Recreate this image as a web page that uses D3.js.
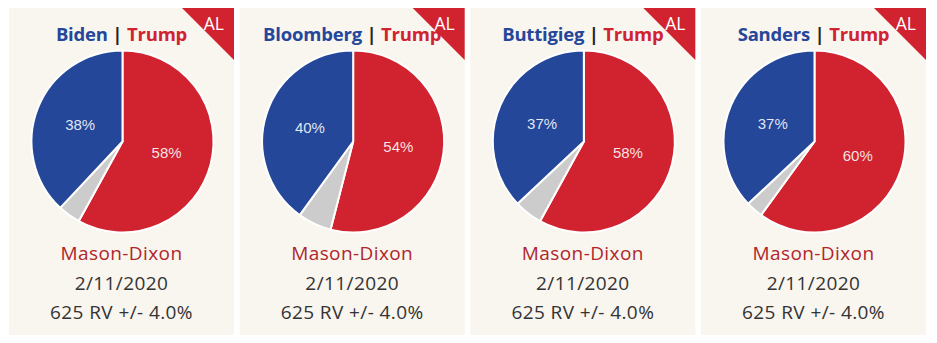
<!DOCTYPE html>
<html>
<head>
<meta charset="utf-8">
<script src="https://cdn.jsdelivr.net/npm/d3@7"></script>
<style>
  body { margin:0; background:#fff; }
  svg { display:block; }
</style>
</head>
<body>
<svg id="chart" width="937" height="343"></svg>
<script>
// poll data, one entry per panel
var candidates = ["Biden", "Bloomberg", "Buttigieg", "Sanders"];
var demShare   = [38, 40, 37, 37];
var trumpShare = [58, 54, 58, 60];
var otherShare = [4, 6, 5, 3];
var stateLabel = "AL";
var pollster   = "Mason-Dixon";
var pollDate   = "2/11/2020";
var sampleInfo = "625 RV +/- 4.0%";

var blue = "#24479a", red = "#d0232f", gray = "#cccccc";
var panelW = 225, panelH = 327, panelTop = 8;

var svg = d3.select("#chart");
var xPanel = d3.scalePoint().domain(d3.range(candidates.length)).range([9, 701]);

var pie = d3.pie().sort(null).value(function(d){ return d.v; });
var arc = d3.arc().innerRadius(0).outerRadius(91);

candidates.forEach(function(name, i){
  var g = svg.append("g").attr("transform", "translate(" + xPanel(i) + "," + panelTop + ")");
  g.append("rect").attr("width", panelW).attr("height", panelH).attr("fill", "#f9f5ef");

  // corner flag
  g.append("path").attr("d", "M" + (panelW-52) + ",0L" + panelW + ",0L" + panelW + ",52Z").attr("fill", red);
  g.append("text").attr("x", panelW - 10).attr("y", 21.5).attr("text-anchor", "end")
    .attr("font-family", "'Open Sans', sans-serif").attr("font-size", 17.5).attr("fill", "#fff")
    .text(stateLabel);

  // title
  var t = g.append("text").attr("x", panelW/2).attr("y", 33).attr("text-anchor", "middle")
    .attr("font-family", "'Open Sans', sans-serif").attr("font-weight", "bold").attr("font-size", 18.5)
    .attr("letter-spacing", -0.2);
  t.append("tspan").attr("fill", blue).text(name);
  t.append("tspan").attr("fill", "#222").text(" | ");
  t.append("tspan").attr("fill", red).text("Trump");

  var slices = [
    {k: "trump", v: trumpShare[i], c: red},
    {k: "other", v: otherShare[i], c: gray},
    {k: "dem",   v: demShare[i],   c: blue}
  ];
  var pg = g.append("g").attr("transform", "translate(" + (panelW/2 + 1) + ",133.5)");
  var arcs = pie(slices);
  pg.selectAll("path").data(arcs).enter().append("path")
    .attr("d", arc).attr("fill", function(d){ return d.data.c; })
    .attr("stroke", "#fff").attr("stroke-width", 2).attr("stroke-linejoin", "round");
  pg.selectAll("text").data(arcs.filter(function(d){ return d.data.k != "other"; })).enter().append("text")
    .attr("transform", function(d){ return "translate(" + arc.centroid(d) + ")"; })
    .attr("dy", "0.35em").attr("text-anchor", "middle")
    .attr("font-family", "'Liberation Sans', Arial, sans-serif").attr("font-size", 15)
    .attr("fill", "#fff").attr("fill-opacity", 0.88)
    .text(function(d){ return d.data.v + "%"; });

  var lines = [{s: pollster, c: "#b0262b"}, {s: pollDate, c: "#333"}, {s: sampleInfo, c: "#333"}];
  g.selectAll("text.info").data(lines).enter().append("text").attr("class", "info")
    .attr("x", panelW/2).attr("y", function(d, j){ return 252 + j*29.5; })
    .attr("text-anchor", "middle").attr("font-family", "'Open Sans', sans-serif").attr("font-size", 19)
    .attr("letter-spacing", 0.4)
    .attr("fill", function(d){ return d.c; })
    .text(function(d){ return d.s; });
});
</script>
</body>
</html>
